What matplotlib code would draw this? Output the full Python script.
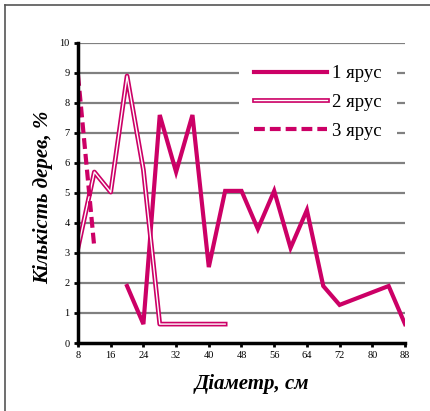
import matplotlib
matplotlib.use("Agg")
import matplotlib.pyplot as plt
import matplotlib.patheffects as pe
from matplotlib.lines import Line2D
from matplotlib.patches import Rectangle

# Data
d1 = [20, 24, 28, 32, 36, 40, 44, 48, 52, 56, 60, 64, 68, 72, 84, 88]
v1 = [1.9, 0.63, 7.6, 5.7, 7.6, 2.53, 5.07, 5.07, 3.8, 5.07, 3.17, 4.43, 1.9, 1.27, 1.9, 0.63]
d2 = [8, 12, 16, 20, 24, 28, 32, 36, 40, 44]
v2 = [3.17, 5.7, 5.03, 8.9, 5.77, 0.63, 0.63, 0.63, 0.63, 0.63]
d3 = [8, 12]
v3 = [8.93, 3.17]
labels = ["1 ярус", "2 ярус", "3 ярус"]
xticks = [8, 16, 24, 32, 40, 48, 56, 64, 72, 80, 88]
yticks = list(range(0, 11))

C = "#cc0066"
SERIF = ["Liberation Serif", "DejaVu Serif"]
W, H = 431, 411

fig = plt.figure(figsize=(W/100, H/100), dpi=100)
ax = fig.add_axes([78/W, 1-343/H, (405-78)/W, 300/H])

for y in yticks[1:]:
    ax.axhline(y, color="#808080", lw=1.6, zorder=1)

l1, = ax.plot(d1, v1, color=C, lw=3.0, solid_joinstyle="miter", zorder=3, label=labels[0])
l2, = ax.plot(d2, v2, color="white", lw=1.0, zorder=3, label=labels[1],
              path_effects=[pe.Stroke(linewidth=3.4, foreground=C), pe.Normal()])
l3, = ax.plot(d3, v3, color=C, lw=3.0, ls=(0, (2.6, 1.2)), zorder=3, label=labels[2])

ax.set_xlim(8, 88)
ax.set_ylim(0, 10)
ax.set_xticks(xticks)
ax.set_yticks(yticks)
for s in ["top", "right"]:
    ax.spines[s].set_visible(False)
for s in ["left", "bottom"]:
    ax.spines[s].set_linewidth(2.5)
    ax.spines[s].set_zorder(4)
ax.tick_params(axis="both", direction="out", length=3, width=2, pad=3,
               labelsize=7.5, labelfontfamily="Liberation Serif")
ax.patch.set_visible(False)

# white legend area covering gridlines
ax.add_artist(Rectangle((239/W, 1-152/H), (397-239)/W, 95/H, transform=fig.transFigure,
                        facecolor="white", edgecolor="none", zorder=4.5))

leg = ax.legend(loc="upper left", bbox_to_anchor=(254/W, 1-65/H),
                bbox_transform=fig.transFigure, frameon=False,
                prop={"family": SERIF, "size": 13.5}, handlelength=3.9,
                handletextpad=0.25, labelspacing=0.62, borderpad=0,
                borderaxespad=0)
leg.set_zorder(5)

fig.text(252/W, 1-384/H, "Діаметр, см", ha="center", va="center",
         family=SERIF, fontsize=15, fontweight="bold", style="italic")
fig.text(43/W, 1-197/H, "Кількість дерев, %", ha="center", va="center",
         rotation=90, family=SERIF, fontsize=15, fontweight="bold", style="italic")

# page border lines
fig.add_artist(Line2D([5/W, 1], [1-5/H, 1-5/H], transform=fig.transFigure,
                      color="#555555", lw=1.2))
fig.add_artist(Line2D([5/W, 5/W], [0, 1-5/H], transform=fig.transFigure,
                      color="#555555", lw=1.2))

fig.savefig("out.png", dpi=100, facecolor="white")
